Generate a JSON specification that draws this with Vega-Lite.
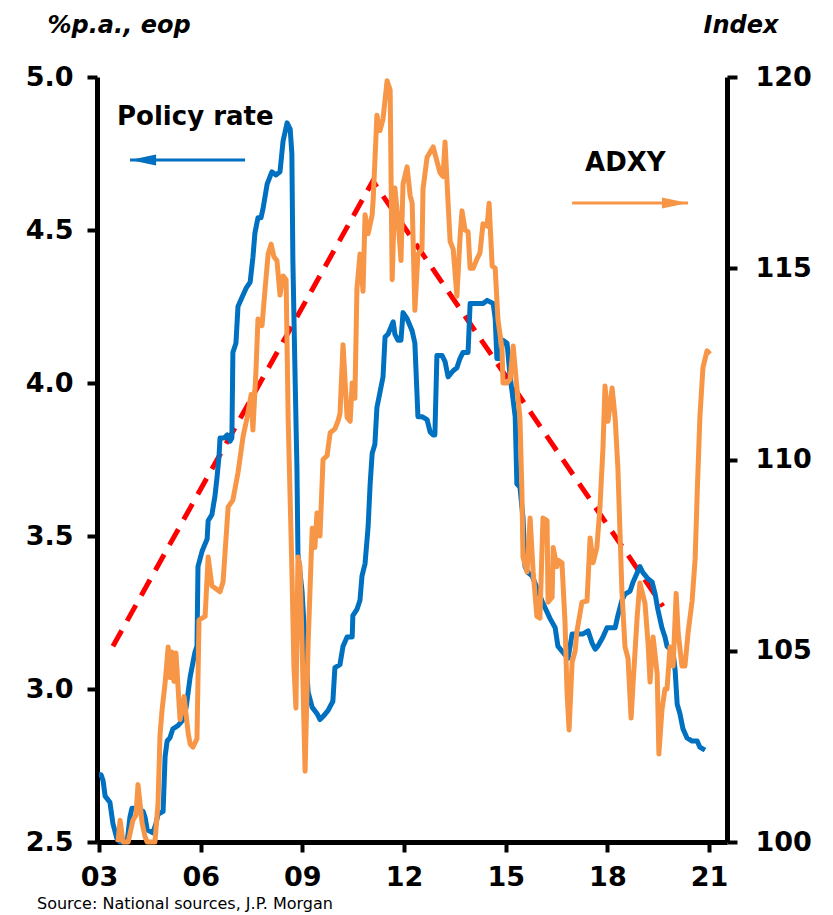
{
  "$schema": "https://vega.github.io/schema/vega-lite/v6.json",
  "width": 630,
  "height": 765,
  "autosize": {"type": "none"},
  "padding": {"left": 97, "top": 77, "right": 106, "bottom": 73},
  "background": "white",
  "config": {
    "view": {"stroke": null},
    "font": "DejaVu Sans",
    "axis": {
      "grid": false,
      "domainColor": "black",
      "domainWidth": 5,
      "tickColor": "black",
      "tickWidth": 4,
      "tickSize": 10,
      "labelColor": "black",
      "labelFont": "DejaVu Sans",
      "labelFontWeight": "bold",
      "labelFontSize": 27,
      "labelOverlap": false,
      "labelFlush": false,
      "titleColor": "black",
      "titleFont": "DejaVu Sans",
      "titleFontWeight": "bold",
      "titleFontStyle": "italic",
      "titleFontSize": 24
    }
  },
  "title": {
    "text": "Source: National sources, J.P. Morgan",
    "orient": "bottom",
    "anchor": "start",
    "frame": "group",
    "dx": -60,
    "offset": 6,
    "font": "DejaVu Sans",
    "fontSize": 16,
    "fontWeight": "normal",
    "color": "black"
  },
  "datasets": {
    "rate": [
      {"t":2003.00,"v":2.72},{"t":2003.06,"v":2.72},{"t":2003.12,"v":2.70},{"t":2003.18,"v":2.65},{"t":2003.32,"v":2.63},{"t":2003.41,"v":2.56},{"t":2003.53,"v":2.51},{"t":2003.62,"v":2.50},{"t":2003.83,"v":2.50},{"t":2003.91,"v":2.58},{"t":2003.97,"v":2.61},{"t":2004.15,"v":2.61},{"t":2004.30,"v":2.60},{"t":2004.36,"v":2.58},{"t":2004.42,"v":2.54},{"t":2004.59,"v":2.53},{"t":2004.68,"v":2.56},{"t":2004.74,"v":2.59},{"t":2004.89,"v":2.60},{"t":2004.95,"v":2.78},{"t":2005.01,"v":2.83},{"t":2005.09,"v":2.84},{"t":2005.18,"v":2.87},{"t":2005.33,"v":2.88},{"t":2005.48,"v":2.90},{"t":2005.57,"v":2.94},{"t":2005.69,"v":3.04},{"t":2005.83,"v":3.12},{"t":2005.89,"v":3.14},{"t":2005.92,"v":3.40},{"t":2006.04,"v":3.45},{"t":2006.19,"v":3.49},{"t":2006.22,"v":3.55},{"t":2006.33,"v":3.57},{"t":2006.42,"v":3.63},{"t":2006.48,"v":3.69},{"t":2006.54,"v":3.76},{"t":2006.57,"v":3.82},{"t":2006.69,"v":3.82},{"t":2006.78,"v":3.83},{"t":2006.87,"v":3.81},{"t":2006.92,"v":3.82},{"t":2006.95,"v":4.10},{"t":2007.04,"v":4.13},{"t":2007.10,"v":4.25},{"t":2007.22,"v":4.28},{"t":2007.34,"v":4.31},{"t":2007.46,"v":4.33},{"t":2007.54,"v":4.41},{"t":2007.60,"v":4.49},{"t":2007.69,"v":4.54},{"t":2007.78,"v":4.54},{"t":2007.84,"v":4.57},{"t":2007.96,"v":4.65},{"t":2008.10,"v":4.69},{"t":2008.22,"v":4.68},{"t":2008.34,"v":4.69},{"t":2008.43,"v":4.79},{"t":2008.55,"v":4.85},{"t":2008.64,"v":4.83},{"t":2008.69,"v":4.75},{"t":2008.72,"v":4.40},{"t":2008.78,"v":4.05},{"t":2008.84,"v":3.72},{"t":2008.87,"v":3.44},{"t":2008.99,"v":3.32},{"t":2009.08,"v":3.15},{"t":2009.17,"v":2.99},{"t":2009.29,"v":2.94},{"t":2009.43,"v":2.92},{"t":2009.52,"v":2.90},{"t":2009.61,"v":2.91},{"t":2009.76,"v":2.93},{"t":2009.90,"v":2.96},{"t":2009.96,"v":3.07},{"t":2010.11,"v":3.08},{"t":2010.20,"v":3.14},{"t":2010.32,"v":3.17},{"t":2010.47,"v":3.17},{"t":2010.49,"v":3.24},{"t":2010.61,"v":3.26},{"t":2010.70,"v":3.29},{"t":2010.76,"v":3.37},{"t":2010.85,"v":3.41},{"t":2010.94,"v":3.53},{"t":2011.00,"v":3.67},{"t":2011.06,"v":3.77},{"t":2011.14,"v":3.80},{"t":2011.20,"v":3.92},{"t":2011.29,"v":3.97},{"t":2011.38,"v":4.02},{"t":2011.44,"v":4.15},{"t":2011.53,"v":4.16},{"t":2011.68,"v":4.20},{"t":2011.73,"v":4.16},{"t":2011.82,"v":4.14},{"t":2011.91,"v":4.14},{"t":2011.97,"v":4.23},{"t":2012.09,"v":4.21},{"t":2012.24,"v":4.17},{"t":2012.32,"v":4.13},{"t":2012.41,"v":3.89},{"t":2012.53,"v":3.89},{"t":2012.68,"v":3.88},{"t":2012.77,"v":3.84},{"t":2012.86,"v":3.83},{"t":2012.91,"v":3.83},{"t":2012.97,"v":4.09},{"t":2013.12,"v":4.09},{"t":2013.21,"v":4.07},{"t":2013.30,"v":4.02},{"t":2013.45,"v":4.04},{"t":2013.56,"v":4.05},{"t":2013.65,"v":4.08},{"t":2013.74,"v":4.10},{"t":2013.89,"v":4.10},{"t":2013.95,"v":4.26},{"t":2014.18,"v":4.26},{"t":2014.33,"v":4.26},{"t":2014.45,"v":4.27},{"t":2014.63,"v":4.26},{"t":2014.69,"v":4.21},{"t":2014.74,"v":4.08},{"t":2014.83,"v":4.08},{"t":2014.92,"v":4.14},{"t":2015.04,"v":4.13},{"t":2015.13,"v":4.02},{"t":2015.19,"v":3.97},{"t":2015.28,"v":3.89},{"t":2015.33,"v":3.67},{"t":2015.42,"v":3.66},{"t":2015.51,"v":3.56},{"t":2015.57,"v":3.40},{"t":2015.66,"v":3.38},{"t":2015.78,"v":3.37},{"t":2015.92,"v":3.33},{"t":2016.10,"v":3.28},{"t":2016.31,"v":3.23},{"t":2016.46,"v":3.20},{"t":2016.54,"v":3.14},{"t":2016.69,"v":3.12},{"t":2016.84,"v":3.10},{"t":2016.96,"v":3.18},{"t":2017.10,"v":3.18},{"t":2017.28,"v":3.18},{"t":2017.43,"v":3.19},{"t":2017.55,"v":3.15},{"t":2017.64,"v":3.13},{"t":2017.72,"v":3.14},{"t":2017.87,"v":3.17},{"t":2017.99,"v":3.20},{"t":2018.23,"v":3.20},{"t":2018.31,"v":3.24},{"t":2018.43,"v":3.29},{"t":2018.52,"v":3.31},{"t":2018.67,"v":3.32},{"t":2018.76,"v":3.35},{"t":2018.88,"v":3.38},{"t":2018.96,"v":3.40},{"t":2019.05,"v":3.38},{"t":2019.20,"v":3.36},{"t":2019.32,"v":3.35},{"t":2019.41,"v":3.31},{"t":2019.49,"v":3.26},{"t":2019.61,"v":3.20},{"t":2019.70,"v":3.17},{"t":2019.76,"v":3.14},{"t":2019.85,"v":3.13},{"t":2019.94,"v":3.12},{"t":2020.00,"v":3.06},{"t":2020.06,"v":2.95},{"t":2020.14,"v":2.92},{"t":2020.23,"v":2.87},{"t":2020.35,"v":2.84},{"t":2020.50,"v":2.83},{"t":2020.65,"v":2.83},{"t":2020.73,"v":2.81},{"t":2020.88,"v":2.80}
    ],
    "adxy": [
      {"t":2003.56,"v":100.0},{"t":2003.62,"v":100.57},{"t":2003.71,"v":100.0},{"t":2003.86,"v":100.0},{"t":2004.00,"v":100.57},{"t":2004.09,"v":100.7},{"t":2004.15,"v":101.5},{"t":2004.27,"v":100.5},{"t":2004.36,"v":100.13},{"t":2004.42,"v":100.0},{"t":2004.65,"v":100.0},{"t":2004.74,"v":101.0},{"t":2004.80,"v":102.8},{"t":2004.86,"v":103.45},{"t":2004.95,"v":104.16},{"t":2005.04,"v":105.1},{"t":2005.09,"v":104.3},{"t":2005.15,"v":104.97},{"t":2005.21,"v":104.2},{"t":2005.27,"v":104.94},{"t":2005.39,"v":103.2},{"t":2005.51,"v":103.8},{"t":2005.63,"v":102.85},{"t":2005.69,"v":102.56},{"t":2005.77,"v":102.48},{"t":2005.89,"v":102.7},{"t":2005.95,"v":105.8},{"t":2006.04,"v":105.85},{"t":2006.13,"v":105.9},{"t":2006.22,"v":107.45},{"t":2006.33,"v":106.7},{"t":2006.48,"v":106.6},{"t":2006.57,"v":106.54},{"t":2006.66,"v":106.8},{"t":2006.81,"v":108.76},{"t":2006.95,"v":108.94},{"t":2007.10,"v":109.65},{"t":2007.25,"v":110.6},{"t":2007.37,"v":111.1},{"t":2007.49,"v":111.7},{"t":2007.54,"v":110.77},{"t":2007.63,"v":112.3},{"t":2007.69,"v":113.67},{"t":2007.81,"v":113.5},{"t":2007.90,"v":114.46},{"t":2007.99,"v":115.37},{"t":2008.08,"v":115.63},{"t":2008.16,"v":115.3},{"t":2008.25,"v":115.2},{"t":2008.34,"v":114.3},{"t":2008.43,"v":114.8},{"t":2008.52,"v":114.7},{"t":2008.58,"v":111.1},{"t":2008.69,"v":107.16},{"t":2008.75,"v":104.6},{"t":2008.81,"v":103.5},{"t":2008.87,"v":107.45},{"t":2008.93,"v":107.2},{"t":2008.99,"v":105.2},{"t":2009.08,"v":101.85},{"t":2009.17,"v":105.2},{"t":2009.29,"v":108.2},{"t":2009.37,"v":107.7},{"t":2009.43,"v":108.6},{"t":2009.52,"v":108.0},{"t":2009.61,"v":110.0},{"t":2009.73,"v":110.1},{"t":2009.82,"v":110.7},{"t":2009.96,"v":110.8},{"t":2010.05,"v":111.0},{"t":2010.11,"v":111.2},{"t":2010.20,"v":113.0},{"t":2010.32,"v":111.1},{"t":2010.41,"v":111.0},{"t":2010.47,"v":112.0},{"t":2010.55,"v":111.6},{"t":2010.61,"v":114.46},{"t":2010.70,"v":115.37},{"t":2010.79,"v":114.4},{"t":2010.85,"v":116.4},{"t":2010.94,"v":115.9},{"t":2011.06,"v":116.4},{"t":2011.09,"v":116.8},{"t":2011.20,"v":119.0},{"t":2011.29,"v":118.6},{"t":2011.38,"v":118.9},{"t":2011.50,"v":119.9},{"t":2011.59,"v":119.66},{"t":2011.65,"v":114.7},{"t":2011.73,"v":117.1},{"t":2011.82,"v":116.3},{"t":2011.91,"v":115.2},{"t":2011.97,"v":117.2},{"t":2012.09,"v":117.65},{"t":2012.18,"v":116.9},{"t":2012.24,"v":116.7},{"t":2012.32,"v":113.9},{"t":2012.41,"v":115.37},{"t":2012.53,"v":115.5},{"t":2012.56,"v":117.07},{"t":2012.68,"v":117.9},{"t":2012.86,"v":118.17},{"t":2012.97,"v":117.8},{"t":2013.06,"v":117.5},{"t":2013.15,"v":117.4},{"t":2013.21,"v":118.3},{"t":2013.30,"v":116.7},{"t":2013.36,"v":115.7},{"t":2013.45,"v":115.5},{"t":2013.56,"v":114.27},{"t":2013.65,"v":115.76},{"t":2013.71,"v":116.5},{"t":2013.80,"v":116.0},{"t":2013.89,"v":115.95},{"t":2013.95,"v":115.0},{"t":2014.04,"v":115.0},{"t":2014.15,"v":115.24},{"t":2014.24,"v":115.4},{"t":2014.33,"v":116.16},{"t":2014.45,"v":116.1},{"t":2014.51,"v":116.7},{"t":2014.60,"v":115.06},{"t":2014.69,"v":115.0},{"t":2014.77,"v":113.67},{"t":2014.89,"v":112.9},{"t":2014.92,"v":112.0},{"t":2015.04,"v":112.0},{"t":2015.13,"v":112.1},{"t":2015.22,"v":112.97},{"t":2015.33,"v":111.87},{"t":2015.42,"v":111.1},{"t":2015.48,"v":109.1},{"t":2015.51,"v":107.45},{"t":2015.63,"v":107.06},{"t":2015.72,"v":108.47},{"t":2015.81,"v":107.06},{"t":2015.92,"v":105.9},{"t":2016.01,"v":105.85},{"t":2016.10,"v":108.47},{"t":2016.22,"v":108.4},{"t":2016.25,"v":106.27},{"t":2016.37,"v":106.4},{"t":2016.40,"v":107.7},{"t":2016.51,"v":107.2},{"t":2016.54,"v":107.37},{"t":2016.66,"v":107.3},{"t":2016.75,"v":105.75},{"t":2016.81,"v":103.9},{"t":2016.87,"v":102.93},{"t":2016.96,"v":104.7},{"t":2017.05,"v":105.0},{"t":2017.10,"v":105.5},{"t":2017.25,"v":106.27},{"t":2017.40,"v":106.3},{"t":2017.49,"v":107.95},{"t":2017.58,"v":107.3},{"t":2017.69,"v":107.7},{"t":2017.78,"v":108.73},{"t":2017.87,"v":110.3},{"t":2017.93,"v":111.92},{"t":2018.02,"v":111.0},{"t":2018.14,"v":111.87},{"t":2018.23,"v":111.08},{"t":2018.31,"v":109.78},{"t":2018.43,"v":106.54},{"t":2018.52,"v":105.1},{"t":2018.61,"v":104.8},{"t":2018.70,"v":103.24},{"t":2018.76,"v":104.16},{"t":2018.88,"v":105.9},{"t":2018.96,"v":106.77},{"t":2019.11,"v":106.24},{"t":2019.20,"v":105.2},{"t":2019.26,"v":104.18},{"t":2019.35,"v":105.36},{"t":2019.47,"v":104.4},{"t":2019.52,"v":102.3},{"t":2019.61,"v":103.45},{"t":2019.70,"v":104.0},{"t":2019.76,"v":104.0},{"t":2019.85,"v":105.1},{"t":2019.94,"v":104.6},{"t":2020.03,"v":106.5},{"t":2020.09,"v":105.46},{"t":2020.20,"v":104.6},{"t":2020.29,"v":104.6},{"t":2020.38,"v":105.46},{"t":2020.50,"v":106.3},{"t":2020.59,"v":107.4},{"t":2020.65,"v":109.1},{"t":2020.73,"v":111.1},{"t":2020.82,"v":112.4},{"t":2020.94,"v":112.84},{"t":2021.03,"v":112.76}
    ],
    "trend": [
      {"t":2003.41,"v":3.14},{"t":2011.08,"v":4.66},{"t":2019.64,"v":3.27}
    ],
    "labels": [
      {"series":"Policy rate","t":2003.53,"v":4.87},
      {"series":"ADXY","t":2017.34,"v":4.72}
    ],
    "arrows": [
      {"series":"Policy rate","tip":2003.915,"tail":2007.31,"v":4.729},
      {"series":"ADXY","tip":2020.38,"tail":2016.96,"v":4.588}
    ]
  },
  "layer": [
    {
      "encoding": {
        "x": {
          "field": "t",
          "type": "quantitative",
          "scale": {"domain": [2002.94, 2021.53], "nice": false, "zero": false},
          "axis": {
            "values": [2003, 2006, 2009, 2012, 2015, 2018, 2021],
            "format": "d",
            "labelExpr": "substring(datum.label, 2)",
            "labelPadding": 12,
            "title": null
          }
        },
        "y": {
          "field": "v",
          "type": "quantitative",
          "scale": {"domain": [2.5, 5.0], "nice": false, "zero": false},
          "axis": {
            "orient": "left",
            "values": [2.5, 3.0, 3.5, 4.0, 4.5, 5.0],
            "format": ".1f",
            "labelPadding": 14,
            "title": "%p.a., eop",
            "titleAngle": 0,
            "titleAlign": "left",
            "titleBaseline": "alphabetic",
            "titleX": -50,
            "titleY": -45
          }
        }
      },
      "layer": [
        {
          "data": {"name": "trend"},
          "mark": {"type": "line", "color": "#FF0000", "strokeWidth": 5, "strokeDash": [18, 11]},
          "encoding": {}
        },
        {
          "data": {"name": "rate"},
          "mark": {"type": "line", "color": "#0070C0", "strokeWidth": 5, "strokeJoin": "round"},
          "encoding": {}
        },
        {
          "data": {"name": "arrows"},
          "mark": {"type": "rule", "strokeWidth": 3},
          "encoding": {
            "x": {"field": "tip", "type": "quantitative"},
            "x2": {"field": "tail"},
            "color": {
              "field": "series",
              "type": "nominal",
              "scale": {"domain": ["Policy rate", "ADXY"], "range": ["#0070C0", "#F79646"]},
              "legend": null
            }
          }
        },
        {
          "data": {"name": "arrows"},
          "transform": [{"filter": "datum.series === 'Policy rate'"}],
          "mark": {"type": "point", "filled": true, "opacity": 1, "size": 676, "shape": "M 0 0 L 2 -0.42 L 2 0.42 Z", "color": "#0070C0"},
          "encoding": {"x": {"field": "tip", "type": "quantitative"}}
        },
        {
          "data": {"name": "arrows"},
          "transform": [{"filter": "datum.series === 'ADXY'"}],
          "mark": {"type": "point", "filled": true, "opacity": 1, "size": 676, "shape": "M 0 0 L -2 -0.42 L -2 0.42 Z", "color": "#F79646"},
          "encoding": {"x": {"field": "tip", "type": "quantitative"}}
        },
        {
          "data": {"name": "labels"},
          "mark": {"type": "text", "align": "left", "baseline": "middle", "font": "DejaVu Sans", "fontWeight": "bold", "fontSize": 26, "color": "black"},
          "encoding": {"text": {"field": "series"}}
        }
      ]
    },
    {
      "data": {"name": "adxy"},
      "mark": {"type": "line", "color": "#F79646", "strokeWidth": 5, "strokeJoin": "round"},
      "encoding": {
        "x": {
          "field": "t",
          "type": "quantitative",
          "scale": {"domain": [2002.94, 2021.53], "nice": false, "zero": false},
          "axis": {
            "values": [2003, 2006, 2009, 2012, 2015, 2018, 2021],
            "format": "d",
            "labelExpr": "substring(datum.label, 2)",
            "labelPadding": 12,
            "title": null
          }
        },
        "y": {
          "field": "v",
          "type": "quantitative",
          "scale": {"domain": [100, 120], "nice": false, "zero": false},
          "axis": {
            "orient": "right",
            "values": [100, 105, 110, 115, 120],
            "format": "d",
            "labelPadding": 18,
            "title": "Index",
            "titleAngle": 0,
            "titleAlign": "right",
            "titleBaseline": "alphabetic",
            "titleX": 51,
            "titleY": -45
          }
        }
      }
    }
  ],
  "resolve": {"scale": {"y": "independent"}}
}
